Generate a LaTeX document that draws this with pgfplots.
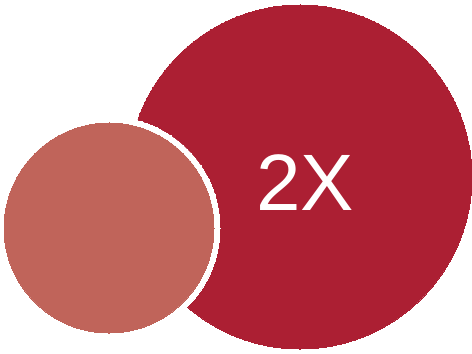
\documentclass[border=0pt]{standalone}
\usepackage{pgfplots}
\pgfplotsset{compat=1.18}
\usepackage{fontspec}
\setmainfont{Liberation Sans}
\definecolor{bigred}{RGB}{172,31,51}
\definecolor{lightred}{RGB}{192,100,90}
\begin{document}
\begin{tikzpicture}
\begin{axis}[
  width=472pt, height=354pt, scale only axis,
  xmin=0, xmax=472, ymin=0, ymax=354,
  hide axis, clip=false,
]
\addplot[color=bigred, only marks, mark=*, mark size=172pt, mark options={fill=bigred, draw=bigred, line width=0pt}] coordinates {(300,177)};
\addplot[color=white, only marks, mark=*, mark size=111pt, mark options={fill=white, draw=white, line width=0pt}] coordinates {(109,126)};
\addplot[color=lightred, only marks, mark=*, mark size=105pt, mark options={fill=lightred, draw=lightred, line width=0pt}] coordinates {(109,126)};
\coordinate (t) at (axis cs:305,171);
\end{axis}
\node[text=white, font=\fontsize{80}{80}\selectfont, inner sep=0pt] at (t) {2X};
\pgfresetboundingbox
\useasboundingbox (0,0) rectangle (472pt,354pt);
\end{tikzpicture}
\end{document}
